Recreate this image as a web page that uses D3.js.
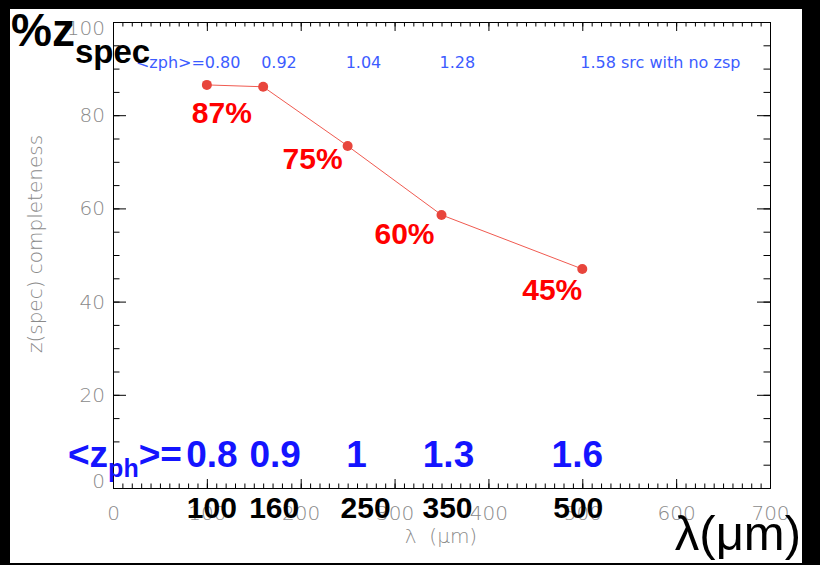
<!DOCTYPE html>
<html><head><meta charset="utf-8">
<script src="https://cdn.jsdelivr.net/npm/d3@7"></script>
<style>
html,body{margin:0;padding:0;background:#000;}
svg{display:block;}
</style></head>
<body>
<svg id="chart" width="820" height="565"></svg>
<script>
// ---- data ----
const wavelengths = [100, 160, 250, 350, 500];
const completeness = [86.5, 86.1, 73.4, 58.6, 47.0];
const pctLabels = ["87%", "75%", "60%", "45%"];
const pctIndex = [0, 2, 3, 4];
const meanZphSmall = ["0.80", "0.92", "1.04", "1.28", "1.58 src with no zsp"];
const meanZphBig = ["0.8", "0.9", "1", "1.3", "1.6"];
const bandLabels = ["100", "160", "250", "350", "500"];
const xTicks = [0, 100, 200, 300, 400, 500, 600, 700];
const yTicks = [0, 20, 40, 60, 80, 100];

// ---- layout ----
const svg = d3.select("#chart");
svg.append("rect").attr("x", 0).attr("y", 0).attr("width", 820).attr("height", 565).attr("fill", "#000");
svg.append("rect").attr("x", 10).attr("y", 9).attr("width", 792).attr("height", 554).attr("fill", "#fff");

const x = d3.scaleLinear().domain([0, 700]).range([113, 770]);
const y = d3.scaleLinear().domain([0, 100]).range([488, 22]);

const tickFont = "'DejaVu Sans', sans-serif";
const grey = "#8a8a8a";

function styleAxis(g) {
  g.selectAll("path.domain").attr("stroke", "#000").attr("stroke-width", 1);
  g.selectAll("line").attr("stroke", "#000").attr("stroke-width", 1);
  g.selectAll("text").attr("fill", grey).attr("font-family", tickFont).attr("font-weight", 200);
}

const xMinor = d3.range(0, 701, 10);
const yMinor = d3.range(0, 101, 5);

// bottom
svg.append("g").attr("transform", "translate(0,488)")
  .call(d3.axisBottom(x).tickValues(xMinor).tickSize(-4.5).tickSizeOuter(0).tickFormat(""))
  .call(styleAxis);
const gxb = svg.append("g").attr("transform", "translate(0,488)")
  .call(d3.axisBottom(x).tickValues(xTicks).tickSize(-9).tickSizeOuter(0).tickPadding(18).tickFormat(d3.format("d")))
  .call(styleAxis);
gxb.selectAll("text").attr("font-size", 20);
// top
svg.append("g").attr("transform", "translate(0,22)")
  .call(d3.axisTop(x).tickValues(xMinor).tickSize(-4.5).tickSizeOuter(0).tickFormat(""))
  .call(styleAxis);
svg.append("g").attr("transform", "translate(0,22)")
  .call(d3.axisTop(x).tickValues(xTicks).tickSize(-9).tickSizeOuter(0).tickFormat(""))
  .call(styleAxis);
// left
svg.append("g").attr("transform", "translate(113,0)")
  .call(d3.axisLeft(y).tickValues(yMinor).tickSize(-6.5).tickSizeOuter(0).tickFormat(""))
  .call(styleAxis);
const gyl = svg.append("g").attr("transform", "translate(113,0)")
  .call(d3.axisLeft(y).tickValues(yTicks).tickSize(-13).tickSizeOuter(0).tickPadding(8).tickFormat(d3.format("d")))
  .call(styleAxis);
gyl.selectAll("text").attr("font-size", 20);
gyl.selectAll(".tick").filter(d => d === 0).select("text").attr("dy", "-0.02em");
gyl.selectAll(".tick").filter(d => d === 100).select("text").attr("dy", "0.62em");
// right
svg.append("g").attr("transform", "translate(770,0)")
  .call(d3.axisRight(y).tickValues(yMinor).tickSize(-6.5).tickSizeOuter(0).tickFormat(""))
  .call(styleAxis);
svg.append("g").attr("transform", "translate(770,0)")
  .call(d3.axisRight(y).tickValues(yTicks).tickSize(-13).tickSizeOuter(0).tickFormat(""))
  .call(styleAxis);

// axis titles
svg.append("text").attr("transform", "translate(42,244) rotate(-90)")
  .attr("text-anchor", "middle").attr("font-family", tickFont).attr("font-weight", 200)
  .attr("font-size", 20).attr("fill", grey).text("z(spec) completeness");
svg.append("text").attr("x", 441).attr("y", 543)
  .attr("text-anchor", "middle").attr("font-family", tickFont).attr("font-weight", 200)
  .attr("font-size", 20).attr("fill", grey).attr("xml:space", "preserve").text("λ  (μm)");

// data line + points
const pts = wavelengths.map((w, i) => ({ w, v: completeness[i] }));
svg.append("path").datum(pts)
  .attr("d", d3.line().x(d => x(d.w)).y(d => y(d.v)))
  .attr("fill", "none").attr("stroke", "#f05a50").attr("stroke-width", 1);
svg.selectAll("circle.pt").data(pts).join("circle").attr("class", "pt")
  .attr("cx", d => x(d.w)).attr("cy", d => y(d.v)).attr("r", 5).attr("fill", "#e8453c");

// small blue <zph> labels along the top
const blueSmall = "#3c5cff";
const sans = "'Liberation Sans', Arial, sans-serif";
svg.append("text").attr("x", x(wavelengths[0]) - 2).attr("y", 68).attr("text-anchor", "end")
  .attr("font-family", tickFont).attr("font-size", 16).attr("fill", blueSmall).text("<zph>=");
svg.selectAll("text.zs").data(meanZphSmall).join("text").attr("class", "zs")
  .attr("x", (d, i) => x(wavelengths[i]) - 2).attr("y", 68).attr("xml:space", "preserve")
  .attr("font-family", tickFont).attr("font-size", 16).attr("fill", blueSmall).text(d => d);

// red percentage labels
const pctOffset = [[15, 38], [-35, 23], [-37, 29], [-30, 31]];
svg.selectAll("text.pct").data(pctLabels).join("text").attr("class", "pct")
  .attr("x", (d, i) => x(wavelengths[pctIndex[i]]) + pctOffset[i][0])
  .attr("y", (d, i) => y(completeness[pctIndex[i]]) + pctOffset[i][1])
  .attr("text-anchor", "middle").attr("font-family", sans).attr("font-weight", "bold")
  .attr("font-size", 30).attr("fill", "#ff0000").text(d => d);

// big blue <z_ph> labels
const blueBig = "#1414ff";
const bigOff = [5, 12, 9, 7, -5];
const zBigX = wavelengths.map((w, i) => x(w) + bigOff[i]);
svg.selectAll("text.zb").data(meanZphBig).join("text").attr("class", "zb")
  .attr("x", (d, i) => zBigX[i]).attr("y", 467).attr("text-anchor", "middle")
  .attr("font-family", sans).attr("font-weight", "bold").attr("font-size", 37)
  .attr("fill", blueBig).text(d => d);
const pre = svg.append("text").attr("x", 68).attr("y", 467)
  .attr("font-family", sans).attr("font-weight", "bold").attr("font-size", 37).attr("fill", blueBig);
pre.append("tspan").text("<z");
pre.append("tspan").attr("font-size", 25).attr("dy", 10).text("ph");
pre.append("tspan").attr("dy", -10).text(">=");

// black band labels
const bandOff = [5, 11, 18, 6, -4];
svg.selectAll("text.band").data(bandLabels).join("text").attr("class", "band")
  .attr("x", (d, i) => x(wavelengths[i]) + bandOff[i]).attr("y", 518).attr("text-anchor", "middle")
  .attr("font-family", sans).attr("font-weight", "bold").attr("font-size", 30)
  .attr("fill", "#000").text(d => d);

// %z_spec title
const tt = svg.append("text").attr("x", 11).attr("y", 46)
  .attr("font-family", sans).attr("font-weight", "bold").attr("font-size", 46).attr("fill", "#000");
tt.append("tspan").text("%z");
tt.append("tspan").attr("font-size", 33).attr("dy", 17).text("spec");

// λ(μm)
svg.append("text").attr("x", 801).attr("y", 550).attr("text-anchor", "end")
  .attr("font-family", sans).attr("font-size", 49).attr("fill", "#000").text("λ(μm)");
</script>
</body></html>
